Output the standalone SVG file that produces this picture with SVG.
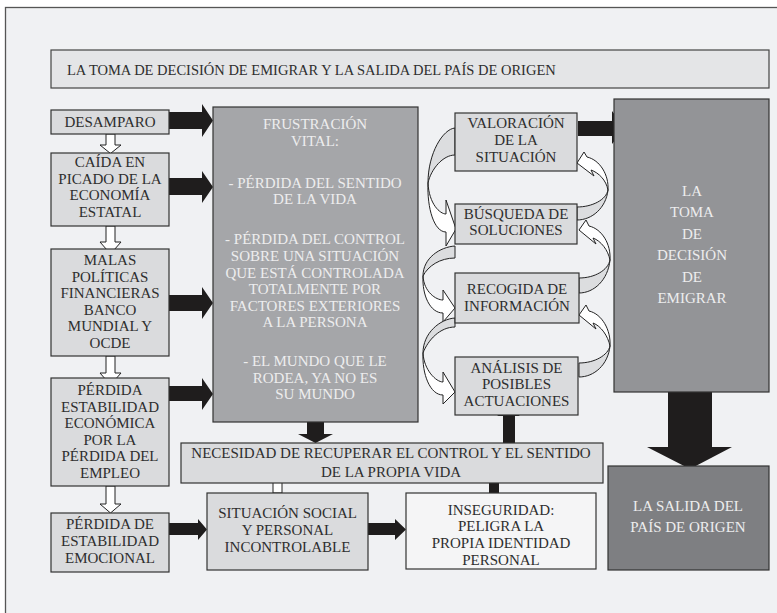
<svg xmlns="http://www.w3.org/2000/svg" width="777" height="613" viewBox="0 0 777 613">
  <style>
    text { font-family: 'Liberation Serif', 'Times New Roman', 'DejaVu Serif', serif; font-size: 15px; fill: #2e2e2e; text-anchor: middle; }
    .lt { fill: #ededee; }
    .box { fill: #dadbdd; stroke: #333; stroke-width: 1.2; }
    .mid { fill: #a5a6a9; stroke: #333; stroke-width: 1.2; }
    .dk { fill: #939497; stroke: #333; stroke-width: 1.2; }
    .dk2 { fill: #7e7f82; stroke: #333; stroke-width: 1.2; }
    .wbox { fill: #f5f5f6; stroke: #333; stroke-width: 1.2; }
    .blk { fill: #1f1d1d; }
    .hol { fill: #ffffff; stroke: #222; stroke-width: 1; stroke-linejoin: miter; }
    .back { fill: #dcdddf; stroke: #222; stroke-width: 1; }
    .front { fill: #ffffff; stroke: #222; stroke-width: 1; }
  </style>

  <!-- page frame -->
  <rect x="0" y="0" width="777" height="613" fill="#ffffff"/>
  <rect x="5.5" y="7.5" width="800" height="700" fill="#f0f1f3" stroke="#555" stroke-width="1.3"/>

  <!-- heading -->
  <g id="title">
    <rect x="51" y="50" width="718" height="38" fill="#e4e5e7" stroke="#444" stroke-width="1.2"/>
    <text x="67" y="75" style="text-anchor:start;font-size:14.5px">LA TOMA DE DECISIÓN DE EMIGRAR Y LA SALIDA DEL PAÍS DE ORIGEN</text>
  </g>

  <!-- connectors -->
  <g id="connectors">
    <!-- solid arrows into the frustration block -->
    <polygon class="blk" points="169,112 202,112 202,104 213,120.5 202,137 202,129 169,129"/>
    <polygon class="blk" points="169,178 202,178 202,171 213,187 202,203 202,195 169,195"/>
    <polygon class="blk" points="169,295 202,295 202,287 213,303 202,319 202,311 169,311"/>
    <polygon class="blk" points="169,386 202,386 202,378 213,394 202,410 202,401 169,401"/>

    <!-- hollow arrows down the left column -->
    <polygon class="hol" points="106,134 115,134 115,145 121,145 110.5,153.5 100,145 106,145"/>
    <polygon class="hol" points="106,226 115,226 115,242 121,242 110.5,254 100,242 106,242"/>
    <polygon class="hol" points="106,356 115,356 115,373 121,373 110.5,385 100,373 106,373"/>
    <polygon class="hol" points="106,486 115,486 115,504 121,504 110.5,513 100,504 106,504"/>

    <!-- lower row -->
    <polygon class="blk" points="169,523 198,523 198,519 207,529.5 198,540 198,535 169,535"/>
    <polygon class="blk" points="368,523 395,523 395,519 406,529.5 395,540 395,535 368,535"/>
    <polygon class="hol" points="273,493 273,480 267.5,480 277.5,474 287.5,480 282,480 282,493"/>
    <polygon class="blk" points="489,493 489,481 482,481 493.5,473 505,481 499,481 499,493"/>
    <polygon class="blk" points="307,422 324,422 324,434 333,434 315.5,443 298,434 307,434"/>
    <polygon class="blk" points="503,443 503,416 497,416 508.5,408 520,416 515,416 515,443"/>

    <!-- to the decision and to the departure -->
    <polygon class="blk" points="578,121 612,121 612,111 625,128 612,144 612,136 578,136"/>
    <polygon class="blk" points="668,392 712,392 712,447 732,447 690,469 647,447 668,447"/>

    <!-- curved loops on the left side of the process column -->
    <path class="back" d="M455,128 C443,129 428,153 428,183 C431,169 443,155 455,155 Z"/>
    <path class="front" d="M428,183 C429,204 440,214 446,214 L446,200 L456,229 L446,246 L446,232 C434,232 427,208 428,183 Z"/>
    <path class="back" d="M455,246 C440,247 423,258 423,276 C428,266 440,258 455,258 Z"/>
    <path class="front" d="M423,276 C424,292 436,300 443,300 L443,290 L455,308 L443,322 L443,313 C430,313 422,295 423,276 Z"/>
    <path class="back" d="M455,318 C440,319 423,333 423,353 C428,340 440,327 455,327 Z"/>
    <path class="front" d="M423,353 C424,370 436,382 443,382 L443,372 L455,392 L443,404 L443,395 C430,395 422,374 423,353 Z"/>

    <!-- curved loops on the right side of the process column -->
    <path class="back" d="M577,207 C592,207 606,200 608,190 C606,208 592,220 577,220 Z"/>
    <path class="front" d="M608,190 C609,175 600,160 587,157 L584,152 L577,163 L594,176 L591,170 C599,173 606,180 608,190 Z"/>
    <path class="back" d="M579,278 C595,278 608,270 610,260 C608,280 594,293 579,293 Z"/>
    <path class="front" d="M610,260 C611,244 602,229 589,226 L586,220 L579,230 L596,244 L593,238 C601,241 608,250 610,260 Z"/>
    <path class="back" d="M579,363 C595,363 608,355 610,346 C608,365 594,377 579,377 Z"/>
    <path class="front" d="M610,346 C611,330 602,314 589,311 L586,305 L579,315 L596,329 L593,323 C601,326 608,336 610,346 Z"/>
  </g>

  <!-- left column -->
  <g id="desamparo">
    <rect class="box" x="51" y="110" width="118" height="24"/>
    <text x="110" y="127">DESAMPARO</text>
  </g>
  <g id="caida">
    <rect class="box" x="51" y="153" width="118" height="73"/>
    <text x="110" y="167">CAÍDA EN</text>
    <text x="110" y="184">PICADO DE LA</text>
    <text x="110" y="200">ECONOMÍA</text>
    <text x="110" y="217">ESTATAL</text>
  </g>
  <g id="malas-politicas">
    <rect class="box" x="51" y="249" width="118" height="107"/>
    <text x="110" y="265">MALAS</text>
    <text x="110" y="282">POLÍTICAS</text>
    <text x="110" y="298">FINANCIERAS</text>
    <text x="110" y="315">BANCO</text>
    <text x="110" y="331">MUNDIAL Y</text>
    <text x="110" y="348">OCDE</text>
  </g>
  <g id="perdida-economica">
    <rect class="box" x="51" y="378" width="118" height="108"/>
    <text x="110" y="395">PÉRDIDA</text>
    <text x="110" y="412">ESTABILIDAD</text>
    <text x="110" y="428">ECONÓMICA</text>
    <text x="110" y="445">POR LA</text>
    <text x="110" y="461">PÉRDIDA DEL</text>
    <text x="110" y="478">EMPLEO</text>
  </g>
  <g id="perdida-emocional">
    <rect class="box" x="51" y="513" width="118" height="59"/>
    <text x="110" y="529">PÉRDIDA DE</text>
    <text x="110" y="546">ESTABILIDAD</text>
    <text x="110" y="563">EMOCIONAL</text>
  </g>

  <!-- central block -->
  <g id="frustracion">
    <rect class="mid" x="213" y="107" width="205" height="315"/>
    <text class="lt" x="315" y="129">FRUSTRACIÓN</text>
    <text class="lt" x="315" y="146">VITAL:</text>
    <text class="lt" x="315" y="188">- PÉRDIDA DEL SENTIDO</text>
    <text class="lt" x="315" y="204">DE LA VIDA</text>
    <text class="lt" x="315" y="244">- PÉRDIDA DEL CONTROL</text>
    <text class="lt" x="315" y="261">SOBRE UNA SITUACIÓN</text>
    <text class="lt" x="315" y="278">QUE ESTÁ CONTROLADA</text>
    <text class="lt" x="315" y="294">TOTALMENTE POR</text>
    <text class="lt" x="315" y="311">FACTORES EXTERIORES</text>
    <text class="lt" x="315" y="327">A LA PERSONA</text>
    <text class="lt" x="315" y="366">- EL MUNDO QUE LE</text>
    <text class="lt" x="315" y="383">RODEA, YA NO ES</text>
    <text class="lt" x="315" y="399">SU MUNDO</text>
  </g>

  <g id="necesidad">
    <rect class="box" x="181" y="443" width="422" height="40"/>
    <text x="391" y="458">NECESIDAD DE RECUPERAR EL CONTROL Y EL SENTIDO</text>
    <text x="391" y="477">DE LA PROPIA VIDA</text>
  </g>
  <g id="situacion-social">
    <rect class="box" x="207" y="493" width="161" height="77"/>
    <text x="287.5" y="518">SITUACIÓN SOCIAL</text>
    <text x="287.5" y="535">Y PERSONAL</text>
    <text x="287.5" y="552">INCONTROLABLE</text>
  </g>
  <g id="inseguridad">
    <rect class="wbox" x="406" y="493" width="190" height="76"/>
    <text x="501" y="515">INSEGURIDAD:</text>
    <text x="501" y="531">PELIGRA LA</text>
    <text x="501" y="548">PROPIA IDENTIDAD</text>
    <text x="501" y="565">PERSONAL</text>
  </g>

  <!-- process column -->
  <g id="valoracion">
    <rect class="box" x="455" y="113" width="122" height="58"/>
    <text x="516" y="128">VALORACIÓN</text>
    <text x="516" y="145">DE LA</text>
    <text x="516" y="162">SITUACIÓN</text>
  </g>
  <g id="busqueda">
    <rect class="box" x="455" y="204" width="122" height="40"/>
    <text x="516" y="219">BÚSQUEDA DE</text>
    <text x="516" y="235">SOLUCIONES</text>
  </g>
  <g id="recogida">
    <rect class="box" x="455" y="273" width="124" height="50"/>
    <text x="517" y="294">RECOGIDA DE</text>
    <text x="517" y="311">INFORMACIÓN</text>
  </g>
  <g id="analisis">
    <rect class="box" x="455" y="357" width="123" height="58"/>
    <text x="516.5" y="373">ANÁLISIS DE</text>
    <text x="516.5" y="389">POSIBLES</text>
    <text x="516.5" y="406">ACTUACIONES</text>
  </g>

  <!-- outcome blocks -->
  <g id="toma-decision">
    <rect class="dk" x="614" y="99" width="155" height="293"/>
    <text class="lt" x="692" y="196">LA</text>
    <text class="lt" x="692" y="217">TOMA</text>
    <text class="lt" x="692" y="238.5">DE</text>
    <text class="lt" x="692" y="260">DECISIÓN</text>
    <text class="lt" x="692" y="281.5">DE</text>
    <text class="lt" x="692" y="303">EMIGRAR</text>
  </g>
  <g id="salida">
    <rect class="dk2" x="608" y="466" width="161" height="104"/>
    <text class="lt" x="688" y="511">LA SALIDA DEL</text>
    <text class="lt" x="688" y="532">PAÍS DE ORIGEN</text>
  </g>
</svg>
